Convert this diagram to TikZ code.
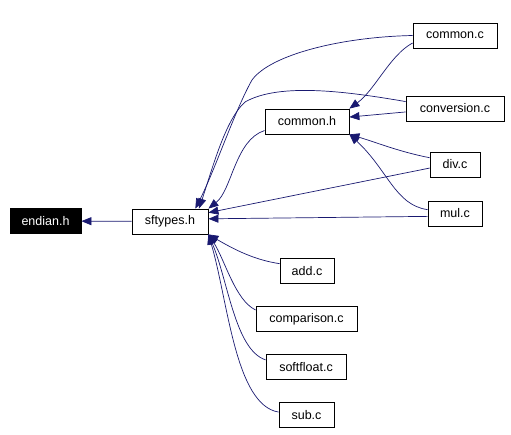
\documentclass[tikz,border=0pt]{standalone}
\usepackage{fontspec}
\setmainfont{Liberation Sans}
\usepackage{xcolor}
\usetikzlibrary{arrows.meta,positioning}
\definecolor{edgeblue}{RGB}{25,25,112}
\tikzset{%
	block/.style    = {draw, rectangle, line width=0.8pt, minimum height=25pt, inner sep=0pt, font=\fontsize{12.5}{15}\selectfont},
	current/.style  = {block, fill=black, text=white}, % the file itself
	incl/.style     = {draw=edgeblue, line width=0.7pt, -{Triangle[length=10pt,width=8pt]}, edgeblue},
}
\begin{document}
\begin{tikzpicture}[x=1pt,y=-1pt]
	\useasboundingbox (0,0) rectangle (511,434);
	\node [current, minimum width=71pt] (endian) at (45.5,221) {endian.h};
	\node [block, minimum width=76pt] (sftypes) at (170,221.5) {sftypes.h};
	\node [block, minimum width=84pt] (commonh) at (307,121.5) {common.h};
	\node [block, minimum width=84pt] (commonc) at (455,35.5) {common.c};
	\node [block, minimum width=98pt] (convc) at (455,108.5) {conversion.c};
	\node [block, minimum width=50pt] (divc) at (455,164.5) {div.c};
	\node [block, minimum width=54pt] (mulc) at (455,213.5) {mul.c};
	\node [block, minimum width=54pt] (addc) at (307,271) {add.c};
	\node [block, minimum width=101pt] (compc) at (306.5,319) {comparison.c};
	\node [block, minimum width=80pt] (softc) at (306,367) {softfloat.c};
	\node [block, minimum width=55pt] (subc) at (306.5,415) {sub.c};
	% includes of sftypes.h
	\draw [incl] (sftypes) -- (endian);
	% includes from the top
	\draw [incl] (commonc.west) .. controls (340,37) and (270,55) .. (252,80)
		.. controls (235,110) and (215,170) .. (sftypes.27);
	\draw [incl] (convc.172) .. controls (350,92) and (280,82) .. (245,102)
		.. controls (225,120) and (212,170) .. (sftypes.24);
	\draw [incl] (commonh.192) .. controls (235,140) and (232,190) .. (sftypes.north east);
	\draw [incl] (commonc.190) .. controls (390,55) and (375,90) .. (commonh.north east);
	\draw [incl] (convc.184) -- (commonh.6);
	\draw [incl] (divc.165) .. controls (400,152) and (375,142) .. (commonh.south east);
	\draw [incl] (divc.188) -- (sftypes.13);
	\draw [incl] (mulc.172) .. controls (395,205) and (388,170) .. (commonh.south east);
	\draw [incl] (mulc.186) -- (sftypes.4);
	% includes from below
	\draw [incl] (addc.165) .. controls (255,260) and (235,250) .. (sftypes.south east);
	\draw [incl] (compc.170) .. controls (235,300) and (225,260) .. (sftypes.south east);
	\draw [incl] (softc.170) .. controls (235,350) and (228,280) .. (sftypes.south east);
	\draw [incl] (subc.174) .. controls (235,405) and (228,300) .. (sftypes.south east);
\end{tikzpicture}
\end{document}
